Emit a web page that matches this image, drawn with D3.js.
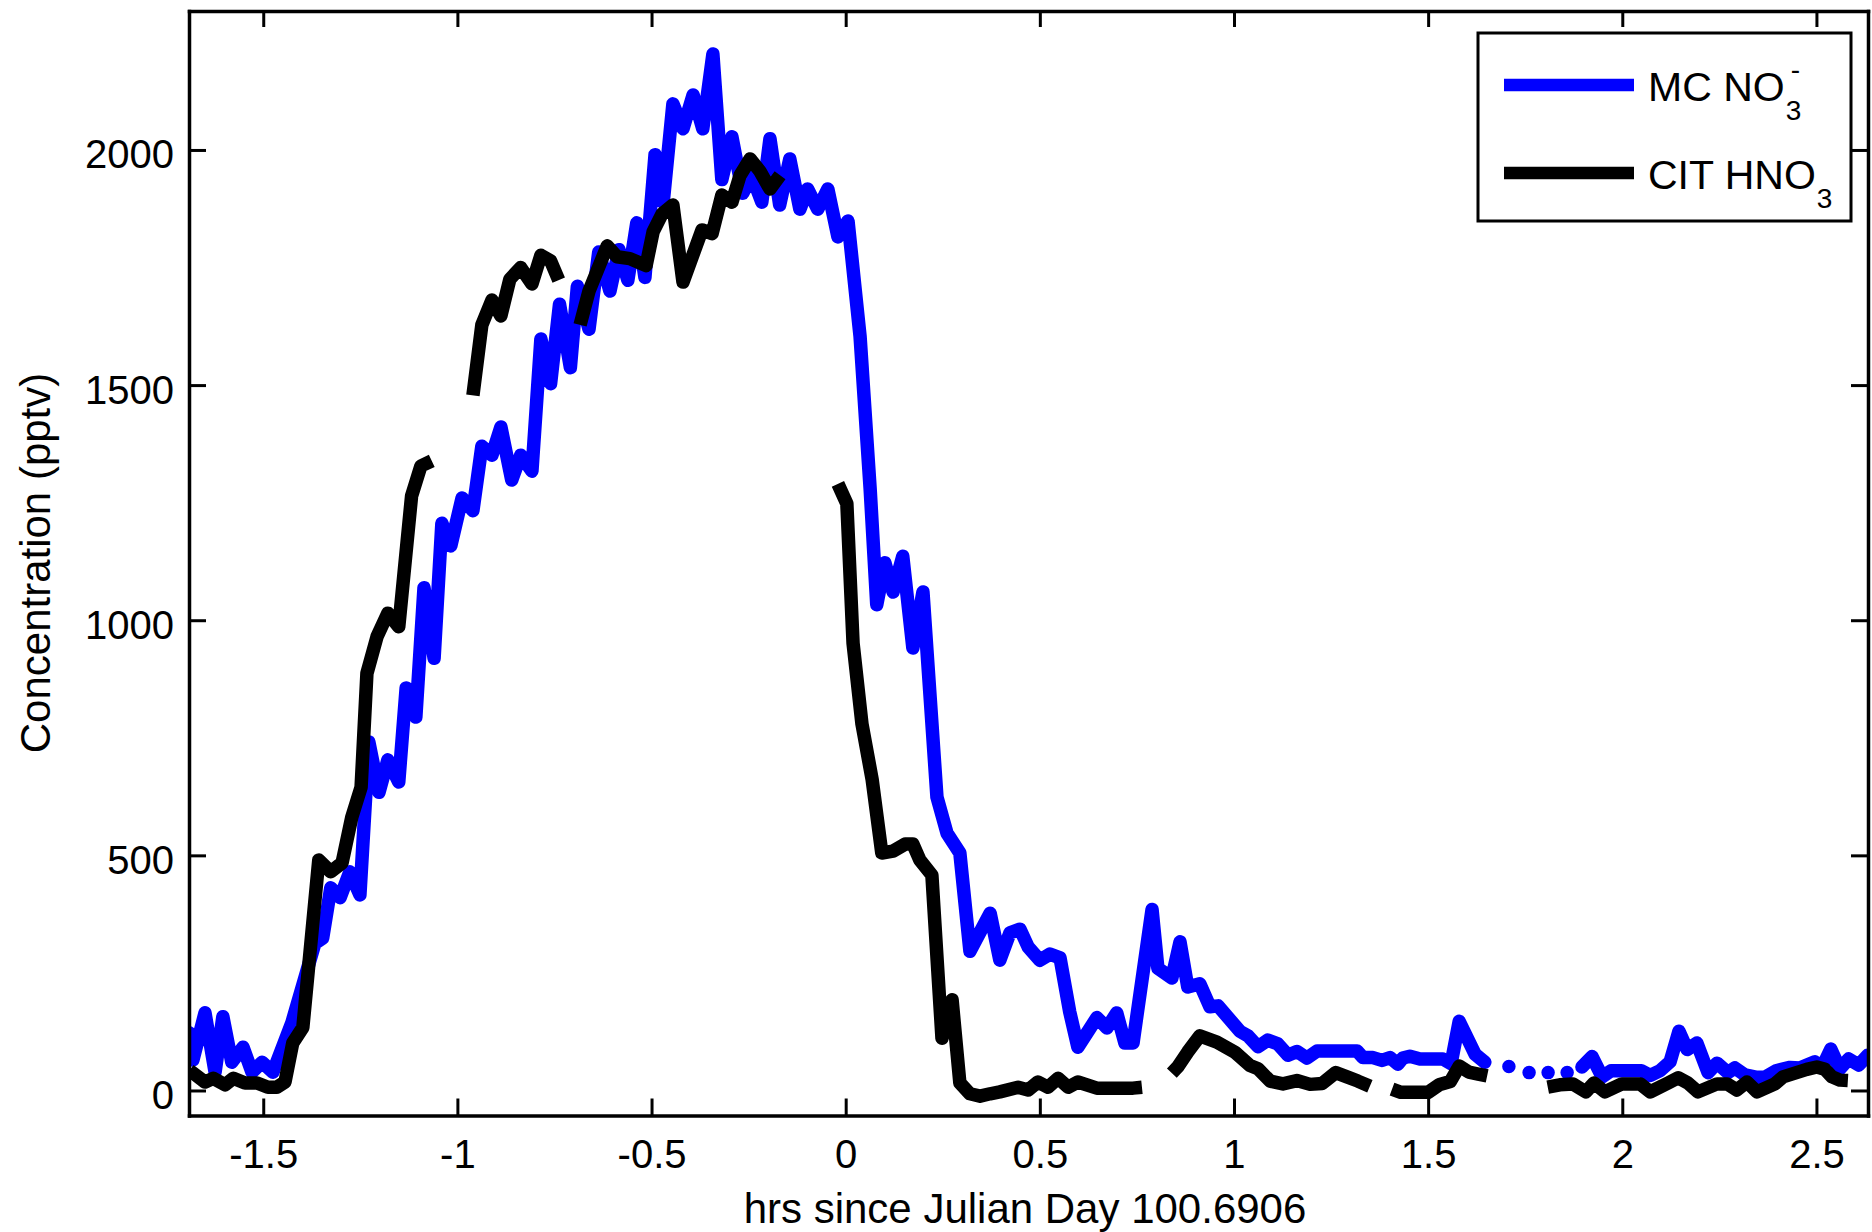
<!DOCTYPE html>
<html>
<head>
<meta charset="utf-8">
<script src="https://cdn.jsdelivr.net/npm/d3@7"></script>
<style>
body { margin: 0; background: #fff; }
text { font-family: "Liberation Sans", Arial, Helvetica, sans-serif; fill: #000; }
.axis path, .axis line { stroke: #000; }
</style>
</head>
<body>
<svg id="chart" width="1872" height="1232"></svg>
<script>
// MC NO3- (null = gap in the record)
var mcHrs = [-1.690, -1.681, -1.650, -1.624, -1.604, -1.581, -1.552, -1.529, -1.503, -1.475,
  -1.426, -1.367, -1.347, -1.326, -1.302, -1.277, -1.251, -1.228, -1.202, -1.179,
  -1.151, -1.132, -1.107, -1.086, -1.060, -1.040, -1.017, -0.988, -0.960, -0.937,
  -0.911, -0.888, -0.860, -0.837, -0.808, -0.785, -0.760, -0.737, -0.709, -0.691,
  -0.661, -0.636, -0.607, -0.584, -0.561, -0.538, -0.517, -0.491, -0.470, -0.445,
  -0.419, -0.393, -0.368, -0.342, -0.319, -0.293, -0.265, -0.242, -0.216, -0.195,
  -0.170, -0.144, -0.118, -0.098, -0.072, -0.046, -0.020, 0.006, 0.037, 0.063,
  0.080, 0.101, 0.122, 0.147, 0.173, 0.199, 0.235, 0.261, 0.294, 0.320,
  0.372, 0.397, 0.423, 0.449, 0.470, 0.500, 0.526, 0.552, 0.577, 0.598,
  0.647, 0.673, 0.698, 0.719, 0.740, 0.789, 0.804, 0.840, 0.861, 0.881,
  0.912, 0.938, 0.959, 1.015, 1.036, 1.062, 1.087, 1.113, 1.139, 1.162,
  1.188, 1.214, 1.317, 1.332, 1.358, 1.381, 1.402, 1.422, 1.435, 1.453,
  1.479, 1.538, 1.559, 1.580, 1.621, 1.646, null, 1.708, null, 1.760,
  null, 1.809, null, 1.858, null, 1.896, 1.922, 1.948, 1.971, 2.049,
  2.072, 2.097, 2.123, 2.146, 2.167, 2.192, 2.221, 2.244, 2.272, 2.290,
  2.316, 2.347, 2.367, 2.396, 2.432, 2.457, 2.496, 2.514, 2.537, 2.560,
  2.583, 2.609, 2.632];
var mcConc = [122, 65, 165, 39, 157, 60, 92, 39, 60, 39,
  145, 313, 324, 431, 410, 465, 416, 741, 634, 703,
  656, 856, 794, 1069, 919, 1206, 1158, 1260, 1233, 1370,
  1351, 1411, 1298, 1351, 1317, 1598, 1503, 1672, 1537, 1710,
  1619, 1783, 1700, 1788, 1723, 1845, 1729, 1990, 1888, 2098,
  2045, 2117, 2045, 2204, 1937, 2028, 1908, 1946, 1889, 2024,
  1883, 1981, 1874, 1917, 1874, 1917, 1815, 1849, 1604, 1279,
  1033, 1122, 1060, 1136, 941, 1060, 624, 547, 505, 296,
  377, 277, 335, 343, 305, 277, 290, 282, 167, 92,
  155, 133, 165, 101, 101, 385, 260, 239, 316, 220,
  227, 178, 180, 126, 116, 93, 107, 99, 75, 83,
  69, 84, 84, 70, 70, 64, 70, 56, 69, 73,
  67, 67, 57, 147, 77, 60, null, 51, null, 38,
  null, 38, null, 38, null, 50, 72, 29, 42, 42,
  32, 42, 61, 126, 87, 101, 38, 58, 38, 48,
  33, 28, 28, 42, 49, 48, 61, 48, 88, 46,
  67, 54, 75];

// CIT HNO3
var citHrs = [-1.690, -1.650, -1.629, -1.598, -1.577, -1.547, -1.516, -1.488, -1.465, -1.444,
  -1.424, -1.398, -1.357, -1.326, -1.297, -1.272, -1.248, -1.233, -1.207, -1.179,
  -1.151, -1.118, -1.094, -1.066, null,
  -0.960, -0.937, -0.911, -0.888, -0.865, -0.837, -0.808, -0.785, -0.760, -0.739, null,
  -0.684, -0.661, -0.614, -0.589, -0.556, -0.514, -0.496, -0.473, -0.445, -0.419,
  -0.370, -0.344, -0.319, -0.293, -0.272, -0.246, -0.221, -0.195, -0.169, null,
  -0.020, 0.003, 0.019, 0.042, 0.068, 0.093, 0.122, 0.153, 0.173, 0.191,
  0.222, 0.248, 0.274, 0.294, 0.320, 0.346, 0.372, 0.397, 0.444, 0.470,
  0.495, 0.521, 0.547, 0.573, 0.598, 0.647, 0.740, 0.763, null,
  0.840, 0.855, 0.881, 0.912, 0.956, 1.003, 1.041, 1.062, 1.093, 1.126,
  1.162, 1.196, 1.227, 1.262, 1.291, 1.319, 1.350, null,
  1.407, 1.430, 1.500, 1.528, 1.557, 1.580, 1.605, 1.629, 1.652, null,
  1.808, 1.839, 1.873, 1.906, 1.927, 1.955, 1.999, 2.046, 2.072, 2.118,
  2.144, 2.169, 2.195, 2.244, 2.270, 2.295, 2.321, 2.347, 2.393, 2.414,
  2.475, 2.501, 2.522, 2.540, 2.561, 2.581];
var citConc = [43, 18, 26, 12, 26, 16, 16, 7, 7, 18,
  101, 134, 490, 465, 484, 581, 645, 887, 965, 1015,
  986, 1264, 1328, 1339, null,
  1478, 1628, 1681, 1647, 1725, 1750, 1715, 1776, 1764, 1723, null,
  1628, 1700, 1796, 1773, 1769, 1754, 1826, 1864, 1883, 1719,
  1830, 1822, 1904, 1889, 1946, 1981, 1955, 1917, 1946, null,
  1290, 1248, 951, 779, 662, 505, 509, 524, 524, 490,
  458, 111, 193, 16, -7, -12, -7, -3, 7, 1,
  18, 7, 26, 7, 18, 5, 5, 7, null,
  37, 50, 82, 116, 103, 81, 53, 46, 20, 14,
  21, 13, 15, 38, 29, 20, 9, null,
  3, -4, -4, 12, 19, 52, 39, 35, 31, null,
  7, 12, 14, -3, 16, -3, 14, 14, -3, 16,
  27, 16, -3, 14, 14, 1, 18, -3, 14, 29,
  45, 50, 45, 29, 22, 21];

var xTicks = [-1.5, -1, -0.5, 0, 0.5, 1, 1.5, 2, 2.5];
var yTicks = [0, 500, 1000, 1500, 2000];
var xLabel = "hrs since Julian Day 100.6906";
var yLabel = "Concentration (pptv)";

var plot = { left: 189, right: 1868, top: 11, bottom: 1115.5 };
var svg = d3.select("#chart");

var x = d3.scaleLinear().domain([-1.6912, 2.6328]).range([plot.left, plot.right]);
var y = d3.scaleLinear().domain([-53.2, 2295.5]).range([plot.bottom, plot.top]);

function zip(hrs, conc) {
  return hrs.map(function(h, i) { return { t: h, c: conc[i] }; });
}

svg.append("clipPath").attr("id", "plotclip")
  .append("rect")
  .attr("x", plot.left).attr("y", plot.top)
  .attr("width", plot.right - plot.left).attr("height", plot.bottom - plot.top);

var line = d3.line()
  .defined(function(d) { return d.c != null; })
  .x(function(d) { return x(d.t); })
  .y(function(d) { return y(d.c); });

var lines = svg.append("g").attr("clip-path", "url(#plotclip)");

lines.append("path")
  .attr("d", line(zip(mcHrs, mcConc)))
  .attr("fill", "none")
  .attr("stroke", "#0000ff")
  .attr("stroke-width", 13.5)
  .attr("stroke-linejoin", "round")
  .attr("stroke-linecap", "round");

lines.append("path")
  .attr("d", line(zip(citHrs, citConc)))
  .attr("fill", "none")
  .attr("stroke", "#000")
  .attr("stroke-width", 13.5)
  .attr("stroke-linejoin", "round")
  .attr("stroke-linecap", "butt");

// axes: ticks pointing inward on all four sides
var fmt = function(d) { return String(d); };

var gx = svg.append("g").attr("class", "axis")
  .attr("transform", "translate(0," + plot.bottom + ")")
  .call(d3.axisBottom(x).tickValues(xTicks).tickFormat(fmt).tickSize(-17).tickSizeOuter(0).tickPadding(24));
var gx2 = svg.append("g").attr("class", "axis")
  .attr("transform", "translate(0," + plot.top + ")")
  .call(d3.axisTop(x).tickValues(xTicks).tickFormat("").tickSize(-16).tickSizeOuter(0));
var gy = svg.append("g").attr("class", "axis")
  .attr("transform", "translate(" + plot.left + ",0)")
  .call(d3.axisLeft(y).tickValues(yTicks).tickFormat(fmt).tickSize(-17).tickSizeOuter(0).tickPadding(15));
var gy2 = svg.append("g").attr("class", "axis")
  .attr("transform", "translate(" + plot.right + ",0)")
  .call(d3.axisRight(y).tickValues(yTicks).tickFormat("").tickSize(-17).tickSizeOuter(0));

svg.selectAll(".axis .domain").attr("stroke-width", 3.5).attr("stroke-linecap", "square");
svg.selectAll(".axis .tick line").attr("stroke-width", 3);
svg.selectAll(".axis text").attr("font-size", 40).attr("fill", "#000")
  .attr("font-family", "'Liberation Sans', Arial, sans-serif");
gy.selectAll("text").attr("dy", "0.45em");

svg.append("text")
  .attr("x", 1025).attr("y", 1223)
  .attr("text-anchor", "middle")
  .attr("font-size", 42)
  .text(xLabel);

svg.append("text")
  .attr("transform", "translate(50,563) rotate(-90)")
  .attr("text-anchor", "middle")
  .attr("font-size", 42)
  .text(yLabel);

// legend
var legend = svg.append("g");
legend.append("rect")
  .attr("x", 1478).attr("y", 33).attr("width", 373).attr("height", 188)
  .attr("fill", "#fff").attr("stroke", "#000").attr("stroke-width", 3);

var entries = [
  { name: "MC NO", color: "#0000ff", y: 85, sup: "-" },
  { name: "CIT HNO", color: "#000", y: 173, sup: null }
];

entries.forEach(function(e) {
  legend.append("line")
    .attr("x1", 1504).attr("x2", 1634).attr("y1", e.y).attr("y2", e.y)
    .attr("stroke", e.color).attr("stroke-width", 12.5);
  var t = legend.append("text")
    .attr("x", 1648).attr("y", e.y + 16)
    .attr("font-size", 41)
    .text(e.name);
  var w = t.node().getComputedTextLength();
  legend.append("text")
    .attr("x", 1648 + w + 1).attr("y", e.y + 35)
    .attr("font-size", 28)
    .text("3");
  if (e.sup) {
    legend.append("text")
      .attr("x", 1648 + w + 6).attr("y", e.y - 6)
      .attr("font-size", 28)
      .text(e.sup);
  }
});
</script>
</body>
</html>
